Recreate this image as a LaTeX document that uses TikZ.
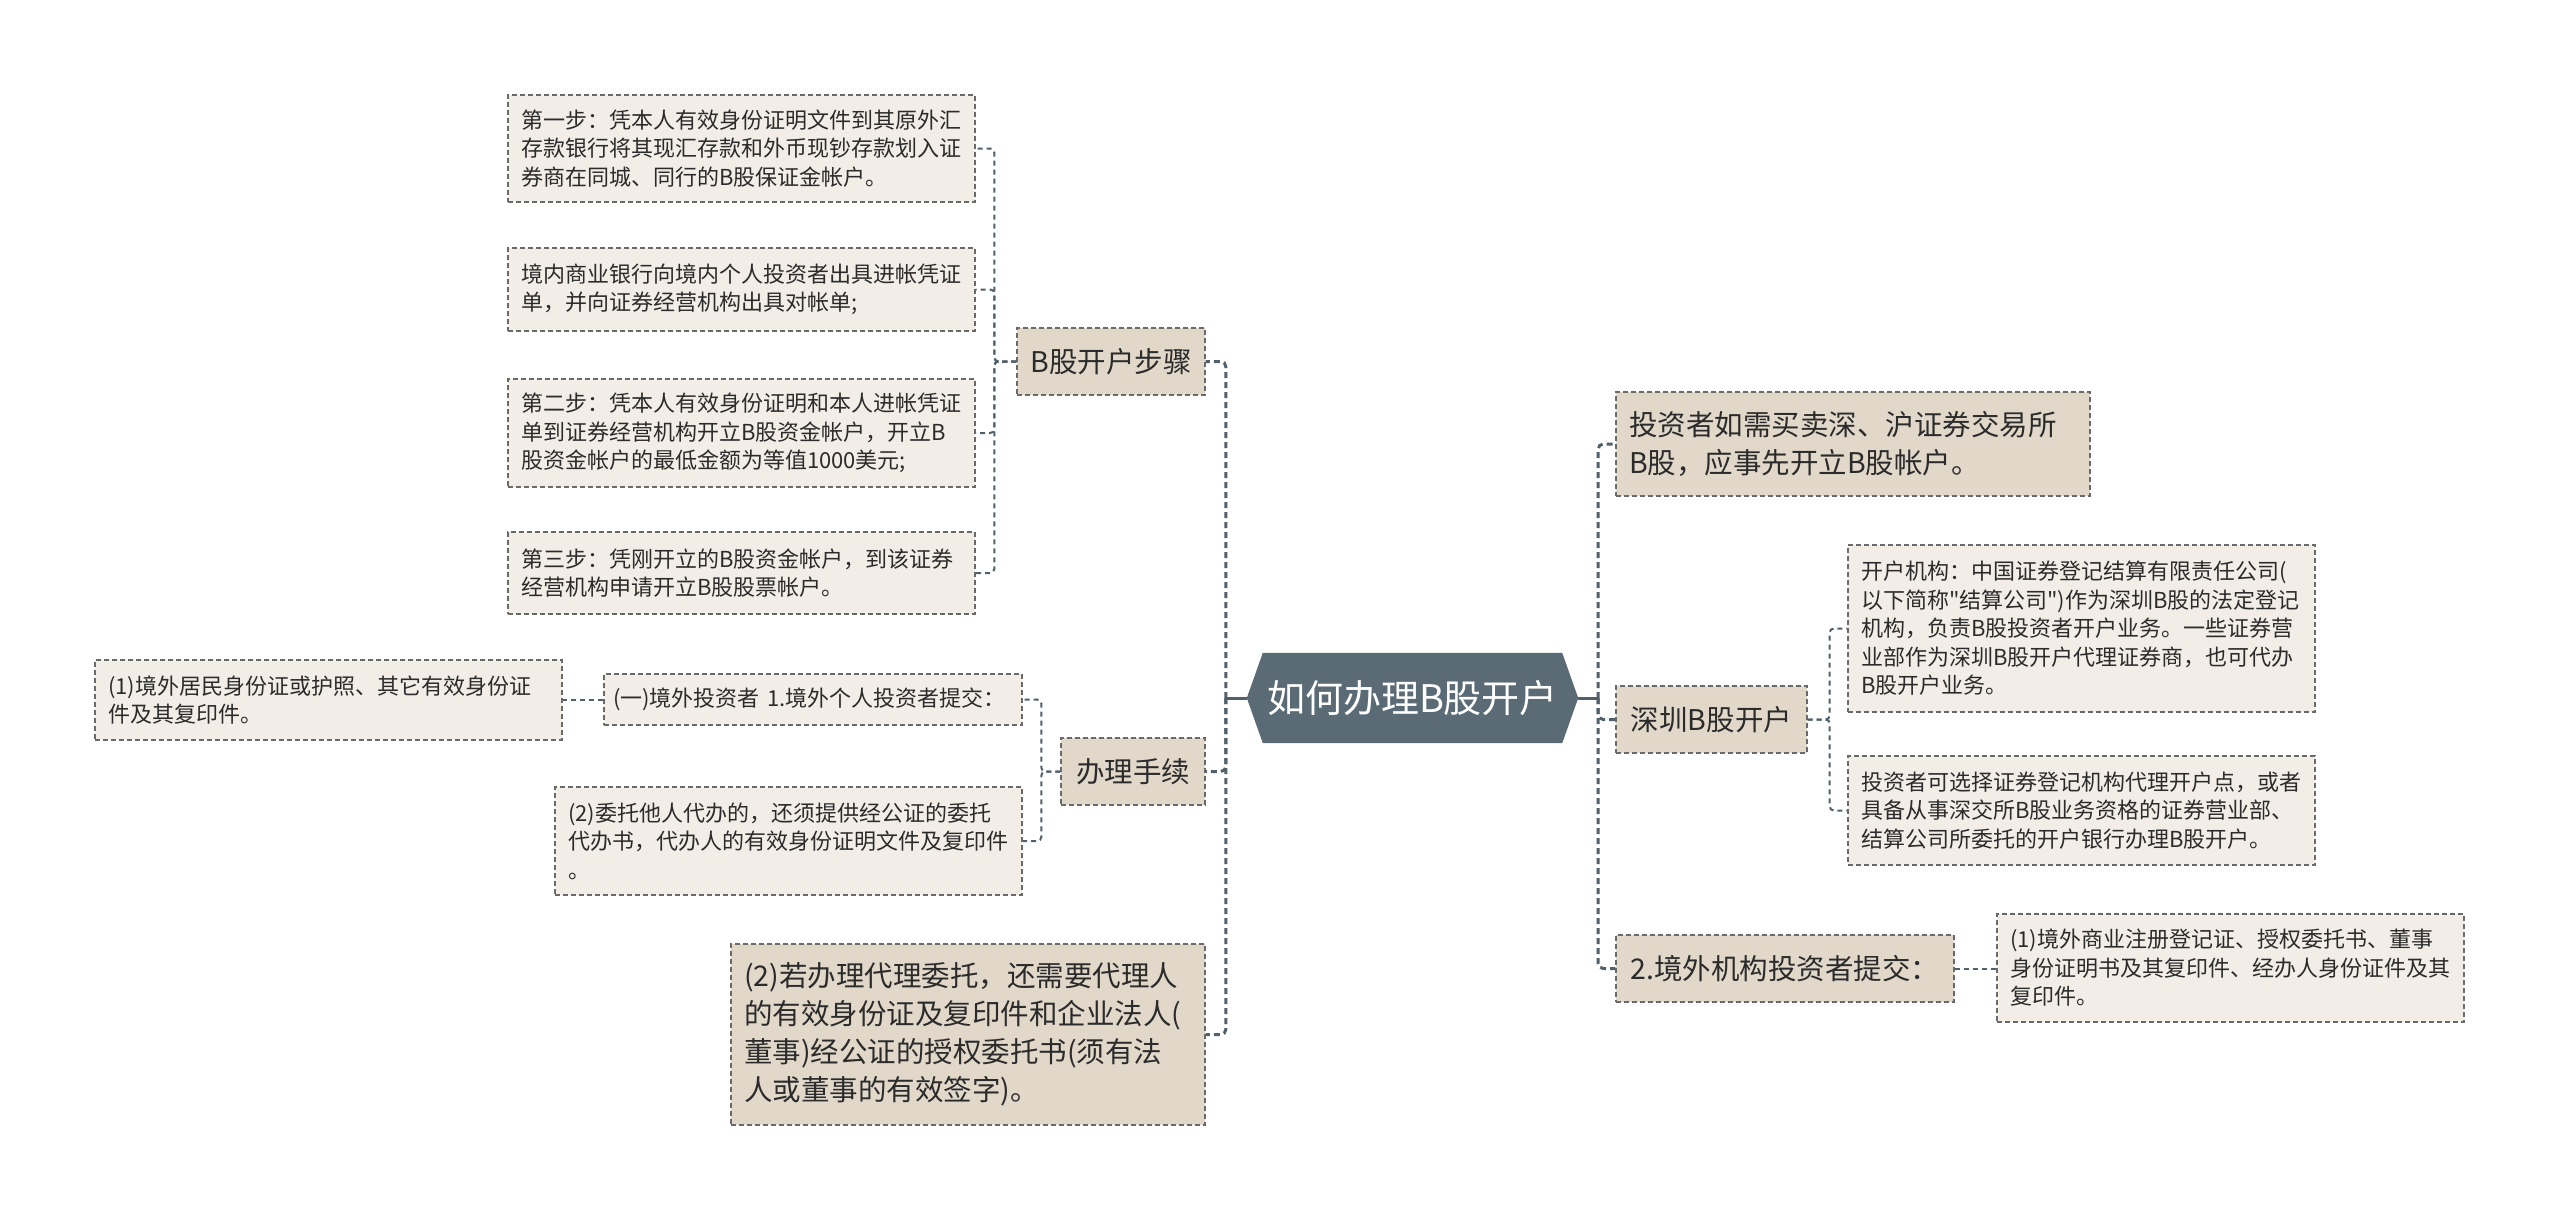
\documentclass[tikz,border=0pt]{standalone}
\usepackage{fontspec}
\newfontfamily\cjk{Noto Sans CJK SC}
\usetikzlibrary{backgrounds}
\definecolor{rootfill}{HTML}{5B6B76}
\definecolor{beige}{HTML}{E1D8CA}
\definecolor{lightbox}{HTML}{F2EEE7}
\definecolor{bordergray}{HTML}{6A6A6A}
\definecolor{linkcol}{HTML}{52606A}
\definecolor{txt}{HTML}{2B2B2B}
\begin{document}
\begin{tikzpicture}[x=1pt,y=-1pt,
  every node/.style={font=\cjk},
  rootnode/.style={minimum width=331pt, minimum height=90pt, inner sep=0pt, text=white,
    font=\cjk\fontsize{38}{44}\selectfont},
  lvone/.style={draw=bordergray, fill=beige, line width=1.4pt, dash pattern=on 5pt off 3pt,
    inner xsep=13pt, inner ysep=0pt, text=txt, font=\cjk\fontsize{28.5}{38}\selectfont},
  lvtwo/.style={draw=bordergray, fill=lightbox, line width=1.4pt, dash pattern=on 5pt off 3pt,
    inner xsep=13pt, inner ysep=0pt, text=txt, align=left, text width=441pt,
    font=\cjk\fontsize{22}{28.5}\selectfont},
  rootlink/.style={draw=linkcol, line width=3pt},
  trunk/.style={draw=linkcol, line width=3pt, dash pattern=on 6pt off 4pt, rounded corners=5pt},
  sublink/.style={draw=linkcol, line width=2pt, dash pattern=on 5pt off 4pt, rounded corners=4pt},
]
\useasboundingbox (0,0) rectangle (2560,1221);

% root
\node[rootnode] (root) at (1412.5,698) {如何办理B股开户};
\begin{scope}[on background layer]
  \fill[white] (0,0) rectangle (2560,1221);
  \fill[rootfill] (root.west) -- ([xshift=16pt]root.north west) -- ([xshift=-16pt]root.north east)
    -- (root.east) -- ([xshift=-16pt]root.south east) -- ([xshift=16pt]root.south west) -- cycle;
\end{scope}

% level one, left
\node[lvone, minimum width=188pt, minimum height=67pt] (bstep) at (1111,361.5) {B股开户步骤};
\node[lvone, minimum width=144pt, minimum height=67pt] (banli) at (1133,771.5) {办理手续};
\node[lvone, text width=448pt, align=left, minimum height=181pt] (ruo) at (968,1034.5)
  {(2)若办理代理委托，还需要代理人\\的有效身份证及复印件和企业法人(\\董事)经公证的授权委托书(须有法\\人或董事的有效签字)。};

% level one, right
\node[lvone, text width=448pt, align=left, minimum height=104pt] (touzi) at (1853,444)
  {投资者如需买卖深、沪证券交易所\\B股，应事先开立B股帐户。};
\node[lvone, minimum width=191pt, minimum height=67pt] (shenzhen) at (1711.5,719.5) {深圳B股开户};
\node[lvone, minimum width=338pt, minimum height=67pt] (jingwai) at (1785,968.5) {2.境外机构投资者提交：};

% level two, B股开户步骤
\node[lvtwo, minimum height=107pt] (s1) at (741.5,148.5)
  {第一步：凭本人有效身份证明文件到其原外汇\\存款银行将其现汇存款和外币现钞存款划入证\\券商在同城、同行的B股保证金帐户。};
\node[lvtwo, minimum height=83pt] (s2) at (741.5,289.5)
  {境内商业银行向境内个人投资者出具进帐凭证\\单，并向证券经营机构出具对帐单;};
\node[lvtwo, minimum height=108pt] (s3) at (741.5,433)
  {第二步：凭本人有效身份证明和本人进帐凭证\\单到证券经营机构开立B股资金帐户，开立B\\股资金帐户的最低金额为等值1000美元;};
\node[lvtwo, minimum height=82pt] (s4) at (741.5,573)
  {第三步：凭刚开立的B股资金帐户，到该证券\\经营机构申请开立B股股票帐户。};

% level two, 办理手续
\node[lvtwo, text width=400pt, inner xsep=9pt, minimum height=51pt] (wai1) at (813,699.5)
  {\mbox{(一)境外投资者 1.境外个人投资者提交：}};
\node[lvtwo, minimum height=80pt] (jumin) at (328.5,700)
  {(1)境外居民身份证或护照、其它有效身份证\\件及其复印件。};
\node[lvtwo, minimum height=108pt] (weituo) at (788.5,841)
  {(2)委托他人代办的，还须提供经公证的委托\\代办书，代办人的有效身份证明文件及复印件\\。};

% level two, right
\node[lvtwo, minimum height=167pt] (kaihu) at (2081.5,628.5)
  {开户机构：中国证券登记结算有限责任公司(\\以下简称"结算公司")作为深圳B股的法定登记\\机构，负责B股投资者开户业务。一些证券营\\业部作为深圳B股开户代理证券商，也可代办\\B股开户业务。};
\node[lvtwo, minimum height=109pt] (kexuan) at (2081.5,810.5)
  {投资者可选择证券登记机构代理开户点，或者\\具备从事深交所B股业务资格的证券营业部、\\结算公司所委托的开户银行办理B股开户。};
\node[lvtwo, minimum height=108pt] (shangye) at (2230.5,968)
  {(1)境外商业注册登记证、授权委托书、董事\\身份证明书及其复印件、经办人身份证件及其\\复印件。};

% root connectors
\coordinate (lt) at ([xshift=-21pt]root.west);
\coordinate (rt) at ([xshift=20pt]root.east);
\draw[rootlink] (root.west) -- (lt);
\draw[rootlink] (root.east) -- (rt);
\draw[trunk] (lt) |- (bstep.east);
\draw[trunk] (lt) |- (banli.east);
\draw[trunk] (lt) |- (ruo.east);
\draw[trunk] (rt) |- (touzi.west);
\draw[trunk] (rt) |- (shenzhen.west);
\draw[trunk] (rt) |- (jingwai.west);

% sub connectors
\draw[sublink] (bstep.west) -- ++(-22,0) |- (s1.east);
\draw[sublink] (bstep.west) -- ++(-22,0) |- (s2.east);
\draw[sublink] (bstep.west) -- ++(-22,0) |- (s3.east);
\draw[sublink] (bstep.west) -- ++(-22,0) |- (s4.east);
\draw[sublink] (banli.west) -- ++(-19,0) |- (wai1.east);
\draw[sublink] (banli.west) -- ++(-19,0) |- (weituo.east);
\draw[sublink] (wai1.west) -- (wai1.west -| jumin.east);
\draw[sublink] (shenzhen.east) -- ++(22,0) |- (kaihu.west);
\draw[sublink] (shenzhen.east) -- ++(22,0) |- (kexuan.west);
\draw[sublink] (jingwai.east) -- (jingwai.east -| shangye.west);
\end{tikzpicture}
\end{document}
